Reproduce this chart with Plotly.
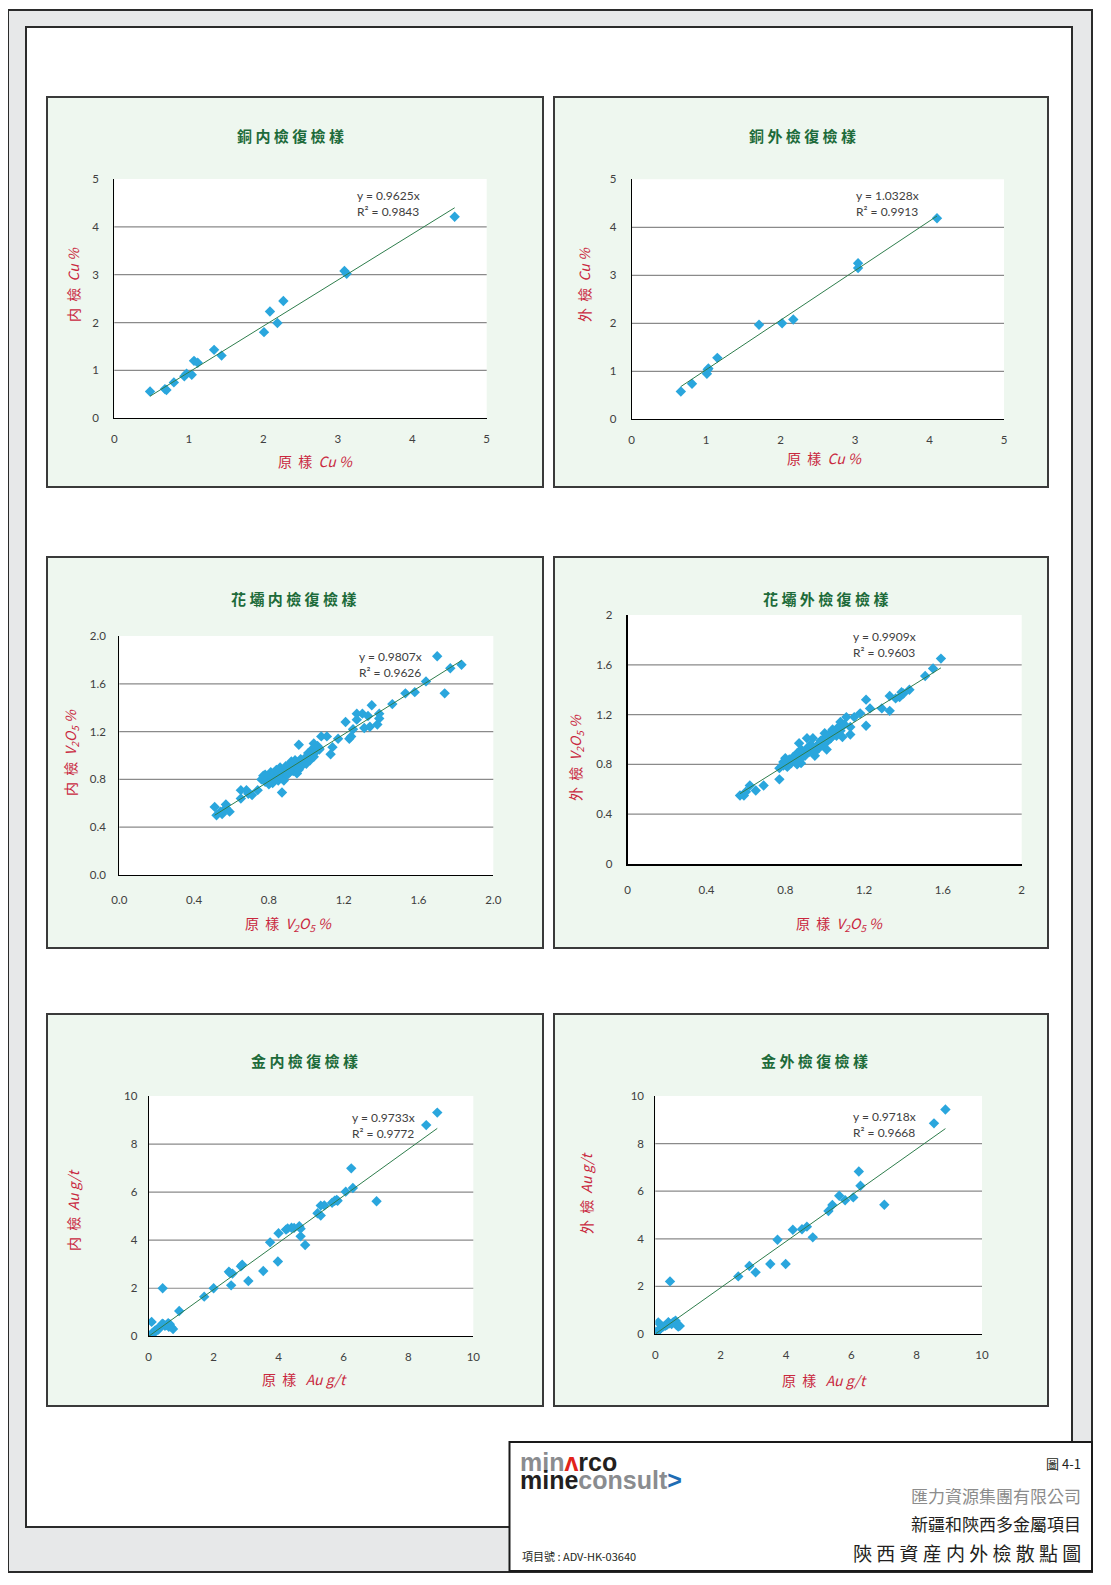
import plotly.graph_objects as go
import numpy as np

W, H = 1111, 1585          # target page size in pixels
BODY = 8                   # default page body margin
FW, FH = W - 2 * BODY, H - 2 * BODY   # figure size so the page does not scroll

# ---------------- data ----------------
cu_in_x = [0.48, 0.68, 0.70, 0.80, 0.94, 0.97, 1.04, 1.07, 1.12, 1.34, 1.44, 2.01, 2.09, 2.19, 2.27, 3.09, 3.12, 4.57]
cu_in_y = [0.56, 0.61, 0.59, 0.75, 0.88, 0.93, 0.91, 1.20, 1.16, 1.43, 1.31, 1.80, 2.23, 1.99, 2.45, 3.08, 3.02, 4.21]

cu_ex_x = [0.66, 0.81, 1.01, 1.02, 1.03, 1.15, 1.71, 2.02, 2.17, 3.04, 3.04, 4.10]
cu_ex_y = [0.58, 0.74, 0.95, 1.03, 1.06, 1.28, 1.97, 2.00, 2.08, 3.25, 3.15, 4.19]

v_in_x = [0.51, 0.52, 0.54, 0.56, 0.57, 0.57, 0.59, 0.55, 0.65, 0.65, 0.68, 0.69, 0.71, 0.74,
          0.87, 0.96, 1.02, 1.04, 1.06, 1.07, 1.08, 1.11, 1.13, 1.14, 1.17,
          1.21, 1.23, 1.24, 1.25, 1.27, 1.27, 1.30, 1.31, 1.33, 1.34, 1.35, 1.38, 1.39, 1.39,
          1.46, 1.53, 1.58, 1.64, 1.70, 1.74, 1.77, 1.83,
          0.76, 0.77, 0.78, 0.78, 0.79, 0.80, 0.80, 0.81, 0.81, 0.82, 0.82, 0.83, 0.83, 0.84, 0.84,
          0.85, 0.85, 0.86, 0.86, 0.87, 0.87, 0.88, 0.88, 0.89, 0.89, 0.90, 0.90, 0.91, 0.91, 0.92,
          0.92, 0.93, 0.94, 0.94, 0.95, 0.95, 0.96, 0.96, 0.97, 0.98, 0.99, 1.00, 1.00, 1.01, 1.02,
          1.03, 1.04, 1.05, 1.06, 1.07]
v_in_y = [0.57, 0.50, 0.53, 0.54, 0.59, 0.56, 0.53, 0.51, 0.71, 0.64, 0.71, 0.68, 0.67, 0.71,
          0.69, 1.09, 1.02, 1.10, 1.07, 1.05, 1.16, 1.16, 1.01, 1.07, 1.14,
          1.28, 1.14, 1.16, 1.22, 1.30, 1.35, 1.35, 1.23, 1.33, 1.24, 1.42, 1.26, 1.35, 1.31,
          1.43, 1.52, 1.53, 1.62, 1.83, 1.52, 1.73, 1.76,
          0.80, 0.83, 0.78, 0.84, 0.81, 0.76, 0.83, 0.86, 0.79, 0.82, 0.77, 0.85, 0.80, 0.88, 0.82,
          0.79, 0.86, 0.83, 0.90, 0.85, 0.81, 0.87, 0.79, 0.84, 0.91, 0.88, 0.84, 0.92, 0.86, 0.89,
          0.95, 0.87, 0.91, 0.96, 0.89, 0.85, 0.93, 0.88, 0.97, 0.92, 0.95, 0.99, 0.93, 1.02, 0.96,
          1.05, 0.99, 1.03, 1.08, 1.06]

v_ex_x = [0.57, 0.59, 0.60, 0.62, 0.65, 0.69, 0.77, 0.77, 0.79, 0.80, 0.81, 0.82, 0.84, 0.86,
          0.87, 0.88, 0.88, 0.90, 0.91, 0.92, 0.94, 0.95, 0.96, 0.98, 0.99, 1.00, 1.01, 1.03,
          1.04, 1.06, 1.07, 1.08, 1.09, 1.11, 1.13, 1.13, 1.15, 1.18, 1.21, 1.21, 1.23, 1.29,
          1.33, 1.33, 1.36, 1.38, 1.39, 1.40, 1.43, 1.51, 1.55, 1.59,
          0.79, 0.80, 0.81, 0.82, 0.83, 0.84, 0.85, 0.86, 0.87, 0.88, 0.89, 0.90, 0.91, 0.92,
          0.93, 0.94, 0.95, 0.96, 0.97, 0.98, 0.99, 1.00, 1.01, 1.02, 1.03, 1.05, 1.06, 1.07,
          1.08, 1.10]
v_ex_y = [0.55, 0.55, 0.58, 0.63, 0.59, 0.63, 0.68, 0.77, 0.82, 0.85, 0.80, 0.81, 0.84, 0.89,
          0.97, 0.81, 0.92, 0.89, 1.01, 0.94, 1.01, 0.87, 0.93, 0.97, 1.00, 1.05, 0.92, 1.01,
          1.08, 1.06, 1.10, 1.14, 1.02, 1.18, 1.10, 1.04, 1.18, 1.21, 1.32, 1.11, 1.25, 1.25,
          1.23, 1.35, 1.33, 1.34, 1.38, 1.37, 1.40, 1.51, 1.57, 1.65,
          0.79, 0.83, 0.78, 0.84, 0.81, 0.86, 0.83, 0.80, 0.88, 0.85, 0.90, 0.87, 0.93, 0.90,
          0.96, 0.92, 0.90, 0.95, 0.93, 0.99, 0.96, 1.00, 0.98, 1.04, 1.01, 1.06, 1.03, 1.09,
          1.07, 1.12]

au_in_x = [0.00, 0.05, 0.10, 0.15, 0.20, 0.25, 0.30, 0.35, 0.40, 0.42, 0.45, 0.50, 0.55, 0.60,
           0.62, 0.65, 0.70, 0.75, 0.30, 0.20,
           0.09, 0.43, 0.94, 1.71, 2.00, 2.47, 2.50, 2.58, 2.54, 2.84, 2.88, 3.07, 3.53, 3.74,
           3.98, 4.00, 4.23, 4.28, 4.40, 4.48, 4.64, 4.68, 4.68, 4.82, 5.20, 5.30, 5.30, 5.41,
           5.65, 5.73, 5.79, 5.82, 6.07, 6.24, 6.29, 7.02, 8.55, 8.89]
au_in_y = [0.02, 0.05, 0.12, 0.18, 0.24, 0.28, 0.33, 0.38, 0.45, 0.52, 0.50, 0.44, 0.47, 0.55,
           0.40, 0.50, 0.38, 0.30, 0.28, 0.18,
           0.60, 2.00, 1.05, 1.65, 2.00, 2.69, 2.64, 2.61, 2.12, 2.91, 2.98, 2.30, 2.72, 3.91,
           3.11, 4.29, 4.44, 4.49, 4.52, 4.51, 4.58, 4.48, 4.16, 3.80, 5.12, 5.44, 5.03, 5.45,
           5.56, 5.64, 5.67, 5.64, 6.02, 6.99, 6.17, 5.62, 8.79, 9.31]

au_ex_x = [0.02, 0.06, 0.09, 0.14, 0.20, 0.24, 0.30, 0.35, 0.40, 0.42, 0.50, 0.55, 0.60, 0.62,
           0.65, 0.70, 0.75,
           0.09, 0.45, 2.54, 2.88, 3.07, 3.52, 3.74, 3.99, 4.21, 4.49, 4.64, 4.82, 5.30, 5.42,
           5.63, 5.81, 6.06, 6.23, 6.28, 7.01, 8.53, 8.88]
au_ex_y = [0.10, 0.08, 0.14, 0.22, 0.28, 0.31, 0.34, 0.38, 0.50, 0.44, 0.42, 0.50, 0.52, 0.56,
           0.38, 0.31, 0.34,
           0.49, 2.21, 2.42, 2.86, 2.59, 2.94, 3.96, 2.94, 4.38, 4.40, 4.51, 4.06, 5.17, 5.42,
           5.81, 5.62, 5.74, 6.83, 6.23, 5.43, 8.85, 9.43]

slopes = [0.9625, 1.0328, 0.9807, 0.9909, 0.9733, 0.9718]
r2s = [0.9843, 0.9913, 0.9626, 0.9603, 0.9772, 0.9668]

titles = ["銅 内 檢 復 檢 樣", "銅 外 檢 復 檢 樣", "花 壩 内 檢 復 檢 樣",
          "花 壩 外 檢 復 檢 樣", "金 内 檢 復 檢 樣", "金 外 檢 復 檢 樣"]
v2o5 = "<i>V<sub>2</sub>O<sub>5</sub>\u00a0%</i>"
x_titles = ["原\u00a0\u00a0樣\u00a0\u00a0<i>Cu\u00a0%</i>", "原\u00a0\u00a0樣\u00a0\u00a0<i>Cu\u00a0%</i>",
            "原\u00a0\u00a0樣\u00a0\u00a0" + v2o5, "原\u00a0\u00a0樣\u00a0\u00a0" + v2o5,
            "原\u00a0\u00a0樣\u00a0\u00a0\u00a0<i>Au\u00a0g/t</i>", "原\u00a0\u00a0樣\u00a0\u00a0\u00a0<i>Au\u00a0g/t</i>"]
y_titles = ["内\u00a0\u00a0檢\u00a0\u00a0<i>Cu\u00a0%</i>", "外\u00a0\u00a0檢\u00a0\u00a0<i>Cu\u00a0%</i>",
            "内\u00a0\u00a0檢\u00a0\u00a0" + v2o5, "外\u00a0\u00a0檢\u00a0\u00a0" + v2o5,
            "内\u00a0\u00a0檢\u00a0\u00a0<i>Au\u00a0g/t</i>", "外\u00a0\u00a0檢\u00a0\u00a0<i>Au\u00a0g/t</i>"]

cu_ticks = [0, 1, 2, 3, 4, 5]
cu_ticktext = ["0", "1", "2", "3", "4", "5"]
v_ticks = [0, 0.4, 0.8, 1.2, 1.6, 2.0]
v_in_ticktext = ["0.0", "0.4", "0.8", "1.2", "1.6", "2.0"]
v_ex_ticktext = ["0", "0.4", "0.8", "1.2", "1.6", "2"]
au_ticks = [0, 2, 4, 6, 8, 10]
au_ticktext = ["0", "2", "4", "6", "8", "10"]

data_x = [cu_in_x, cu_ex_x, v_in_x, v_ex_x, au_in_x, au_ex_x]
data_y = [cu_in_y, cu_ex_y, v_in_y, v_ex_y, au_in_y, au_ex_y]
tickvals = [cu_ticks, cu_ticks, v_ticks, v_ticks, au_ticks, au_ticks]
ticktexts = [cu_ticktext, cu_ticktext, v_in_ticktext, v_ex_ticktext, au_ticktext, au_ticktext]

# ---------------- layout geometry (page pixels) ----------------
def fx(p):
    return (p - BODY) / FW


def fy(p):
    return 1 - (p - BODY) / FH


# panel boxes: left, top, right, bottom
boxes = [(47, 97, 543, 487), (554, 97, 1048, 487),
         (47, 557, 543, 948), (554, 557, 1048, 948),
         (47, 1014, 543, 1406), (554, 1014, 1048, 1406)]
# plot areas: left, right, bottom, top
plots = [(114.3, 486.7, 418.3, 179.0), (631.7, 1004.0, 419.3, 179.3),
         (119.3, 493.3, 875.0, 636.0), (627.7, 1021.7, 864.0, 615.0),
         (148.7, 473.3, 1336.3, 1096.0), (655.3, 982.0, 1334.0, 1096.0)]
title_pos = [(290, 136), (802, 136), (293, 598), (825, 598), (304, 1060), (814, 1060)]
xt_pos = [(315, 461), (824, 458), (288, 924), (839, 924), (304, 1379), (824, 1380)]
yt_pos = [(73, 285), (584, 285), (71, 753), (576, 758), (73, 1210), (586, 1193)]
eq_pos = [(355, 203), (854, 203), (357, 664), (851, 645), (350, 1125), (851, 1124)]
x_standoff = [10, 10, 14, 14, 10, 10]
y_standoff = [12, 12, 10, 11, 8, 8]
axis_w = [1, 1, 1.2, 2.2, 1, 1]

GREEN_TITLE = "#1d6b3a"
RED = "#c9283e"
MARKER = "#2aa6dd"
TREND = "#2e7d4c"
CJK = "Noto Sans CJK TC"
NUM = "Lato"

fig = go.Figure()
shapes = []
annotations = []

# page frames
shapes.append(dict(type="rect", xref="paper", yref="paper", x0=fx(8), x1=fx(1092), y0=fy(1572), y1=fy(10),
                   fillcolor="#e7e8e9", line=dict(color="#2b2b2b", width=2), layer="below"))
shapes.append(dict(type="rect", xref="paper", yref="paper", x0=fx(26), x1=fx(1072), y0=fy(1527), y1=fy(27),
                   fillcolor="#ffffff", line=dict(color="#2b2b2b", width=2), layer="below"))

layout_axes = {}
for i in range(6):
    n = "" if i == 0 else str(i + 1)
    xa, ya = "x" + n, "y" + n
    l, t, r, b = boxes[i]
    shapes.append(dict(type="rect", xref="paper", yref="paper", x0=fx(l), x1=fx(r), y0=fy(b), y1=fy(t),
                       fillcolor="#eef7ef", line=dict(color="#3a3a3a", width=2), layer="below"))
    pl, pr, pb, pt = plots[i]
    shapes.append(dict(type="rect", xref=xa + " domain", yref=ya + " domain", x0=0, x1=1, y0=0, y1=1,
                       fillcolor="#ffffff", line=dict(width=0), layer="below"))
    for v in tickvals[i][1:-1]:
        shapes.append(dict(type="line", xref=xa + " domain", yref=ya, x0=0, x1=1, y0=v, y1=v,
                           line=dict(color="#8a8a8a", width=1.2), layer="below"))

    xs = np.array(data_x[i])
    ys = np.array(data_y[i])
    fig.add_trace(go.Scatter(x=xs, y=ys, mode="markers", xaxis=xa, yaxis=ya,
                             marker=dict(symbol="diamond", size=8, color=MARKER, line=dict(width=0)),
                             showlegend=False, hoverinfo="skip"))
    tx = np.array([xs.min(), xs.max()])
    fig.add_trace(go.Scatter(x=tx, y=slopes[i] * tx, mode="lines", xaxis=xa, yaxis=ya,
                             line=dict(color=TREND, width=1), showlegend=False, hoverinfo="skip"))

    rng_max = tickvals[i][-1]
    axis_common = dict(range=[0, rng_max], tickmode="array", tickvals=tickvals[i], ticktext=ticktexts[i],
                       showgrid=False, zeroline=False, showline=True, linecolor="#000000",
                       linewidth=axis_w[i], ticks="", tickfont=dict(family=NUM, size=11.5, color="#404040"),
                       fixedrange=True, automargin=False)
    layout_axes["xaxis" + n] = dict(axis_common, domain=[fx(pl), fx(pr)], anchor=ya,
                                    ticklabelstandoff=x_standoff[i])
    layout_axes["yaxis" + n] = dict(axis_common, domain=[fy(pb), fy(pt)], anchor=xa,
                                    ticklabelstandoff=y_standoff[i])

    annotations.append(dict(xref="paper", yref="paper", x=fx(title_pos[i][0]), y=fy(title_pos[i][1]),
                            text="<b>" + titles[i] + "</b>", showarrow=False, xanchor="center", yanchor="middle",
                            font=dict(family=CJK, size=15, color=GREEN_TITLE)))
    annotations.append(dict(xref="paper", yref="paper", x=fx(xt_pos[i][0]), y=fy(xt_pos[i][1]),
                            text=x_titles[i], showarrow=False, xanchor="center", yanchor="middle",
                            font=dict(family=CJK, size=14, color=RED)))
    annotations.append(dict(xref="paper", yref="paper", x=fx(yt_pos[i][0]), y=fy(yt_pos[i][1]),
                            text=y_titles[i], showarrow=False, xanchor="center", yanchor="middle",
                            textangle=-90, font=dict(family=CJK, size=14, color=RED)))
    annotations.append(dict(xref="paper", yref="paper", x=fx(eq_pos[i][0]), y=fy(eq_pos[i][1]),
                            text="y = %.4fx<br>R² = %.4f" % (slopes[i], r2s[i]), showarrow=False,
                            xanchor="left", yanchor="middle", align="left",
                            font=dict(family=NUM, size=12, color="#404040")))

# title block
shapes.append(dict(type="rect", xref="paper", yref="paper", x0=fx(509.5), x1=fx(1092), y0=fy(1571), y1=fy(1442),
                   fillcolor="#ffffff", line=dict(color="#1a1a1a", width=2), layer="below"))

LOGO = "Liberation Sans"
annotations.append(dict(xref="paper", yref="paper", x=fx(518), y=fy(1462), xanchor="left", yanchor="middle",
                        showarrow=False, font=dict(family=LOGO, size=25, color="#231f20"),
                        text="<b><span style='color:#8a8c8f'>min</span><span style='color:#e2231a'>ʌ</span>rco</b>"))
annotations.append(dict(xref="paper", yref="paper", x=fx(518), y=fy(1480), xanchor="left", yanchor="middle",
                        showarrow=False, font=dict(family=LOGO, size=25, color="#231f20"),
                        text="<b>mine<span style='color:#8a8c8f'>consult</span><span style='color:#1f6db4'>&gt;</span></b>"))
annotations.append(dict(xref="paper", yref="paper", x=fx(520), y=fy(1556), xanchor="left", yanchor="middle",
                        showarrow=False, font=dict(family=CJK, size=11, color="#231f20"),
                        text="項目號 : ADV-HK-03640"))
annotations.append(dict(xref="paper", yref="paper", x=fx(1083), y=fy(1463), xanchor="right", yanchor="middle",
                        showarrow=False, font=dict(family=CJK, size=13, color="#231f20"),
                        text="圖 4-1"))
annotations.append(dict(xref="paper", yref="paper", x=fx(1083), y=fy(1495), xanchor="right", yanchor="middle",
                        showarrow=False, font=dict(family=CJK, size=17, color="#8c8c8c"),
                        text="匯力資源集團有限公司"))
annotations.append(dict(xref="paper", yref="paper", x=fx(1083), y=fy(1523), xanchor="right", yanchor="middle",
                        showarrow=False, font=dict(family=CJK, size=17, color="#231f20"),
                        text="新疆和陝西多金屬項目"))
annotations.append(dict(xref="paper", yref="paper", x=fx(1083), y=fy(1552), xanchor="right", yanchor="middle",
                        showarrow=False, font=dict(family=CJK, size=19, color="#231f20"),
                        text="陝 西 資 産 内 外 檢 散 點 圖"))

fig.update_layout(width=FW, height=FH, margin=dict(l=0, r=0, t=0, b=0, pad=0), autosize=False,
                  paper_bgcolor="#ffffff", plot_bgcolor="rgba(0,0,0,0)",
                  shapes=shapes, annotations=annotations, showlegend=False, **layout_axes)

fig.write_html("out.html", config=dict(displayModeBar=False))
